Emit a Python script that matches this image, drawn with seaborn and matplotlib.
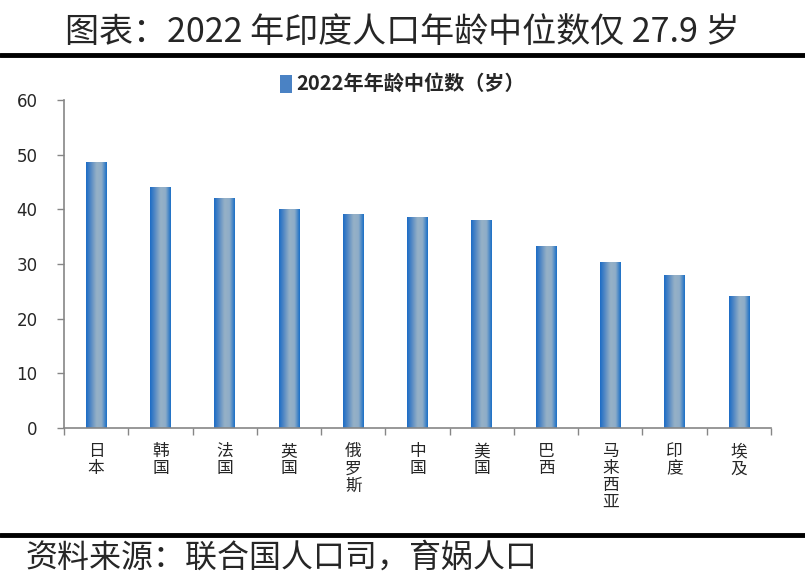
"""
2022 median age by country, bar chart with gradient bars
"""
import numpy as np
import pandas
import matplotlib
matplotlib.use('Agg')
import matplotlib.pyplot as plt
from matplotlib.colors import LinearSegmentedColormap
from matplotlib.patches import Patch
import seaborn

countries = ['日本', '韩国', '法国', '英国', '俄罗斯', '中国', '美国', '巴西', '马来西亚', '印度', '埃及']
median_age = [48.6, 44.0, 41.9, 39.9, 39.0, 38.5, 38.0, 33.2, 30.3, 27.9, 24.1]
yticks = [0, 10, 20, 30, 40, 50, 60]

title = '图表：2022 年印度人口年龄中位数仅 27.9 岁'
series_name = '2022年年龄中位数（岁）'
source = '资料来源：联合国人口司，育娲人口'

seaborn.set_theme(style='white')
plt.rcParams['font.family'] = ['Noto Sans CJK SC', 'DejaVu Sans']

df = pandas.DataFrame({'country': countries, 'age': median_age})

fig = plt.figure(figsize=(8.05, 5.84), dpi=100)
ax = fig.add_axes([64 / 805, 1 - 428 / 584, (771 - 64) / 805, (428 - 100) / 584])

seaborn.barplot(data=df, x='country', y='age', ax=ax, width=0.32,
                color='#2a72c4', saturation=1)

# gradient fill: dark blue edges, grey-blue centre
cmap = LinearSegmentedColormap.from_list('bar', ['#1c6cc6', '#5a8cc4', '#96b1c6', '#8fadc8', '#1a6fc6'])
grad = np.linspace(0, 1, 64).reshape(1, -1)
for p in ax.patches:
    x0, y0 = p.get_x(), p.get_y()
    w, h = p.get_width(), p.get_height()
    ax.imshow(grad, cmap=cmap, aspect='auto', extent=(x0, x0 + w, y0, y0 + h),
              zorder=2, interpolation='bicubic')
    p.set_facecolor('none')
    p.set_edgecolor('none')

ax.set_xlim(-0.5, len(countries) - 0.5)
ax.set_ylim(0, 60)
ax.set_yticks(yticks)
ax.set_yticklabels([str(t) for t in yticks], fontsize=12, family='DejaVu Sans')
ax.set_xlabel('')
ax.set_ylabel('')

ax.set_xticks(range(len(countries)))
ax.set_xticklabels(['\n'.join(c) for c in countries], fontsize=12,
                   va='top', linespacing=1.0)
ax.tick_params(axis='x', length=0, pad=11)
ax.tick_params(axis='y', length=5, width=1, color='#868686', pad=14, left=True)
# x ticks between categories
ax.set_xticks(np.arange(-0.5, len(countries), 1), minor=True)
ax.tick_params(axis='x', which='minor', length=5, width=1, color='#868686', bottom=True)

for side in ['top', 'right']:
    ax.spines[side].set_visible(False)
for side in ['left', 'bottom']:
    ax.spines[side].set_color('#868686')
    ax.spines[side].set_linewidth(1.2)

handle = Patch(facecolor='#4a82c4', edgecolor='none')
fig.legend([handle], [series_name], loc='center', bbox_to_anchor=(0.5, 1 - 84 / 584),
           frameon=False, prop={'weight': 'bold', 'size': 14.5},
           handlelength=0.6, handleheight=1.0, handletextpad=0.2)

fig.text(0.5, 1 - 32 / 584, title, ha='center', va='center', fontsize=24.5)
fig.add_artist(plt.Line2D([0, 1], [1 - 55 / 584] * 2, color='black', lw=3.5,
                          transform=fig.transFigure))
fig.add_artist(plt.Line2D([0, 1], [1 - 535 / 584] * 2, color='black', lw=3.5,
                          transform=fig.transFigure))
fig.text(25 / 805, 1 - 558 / 584, source, ha='left', va='center', fontsize=23)

fig.savefig('out.png', dpi=100)
plt.close()
